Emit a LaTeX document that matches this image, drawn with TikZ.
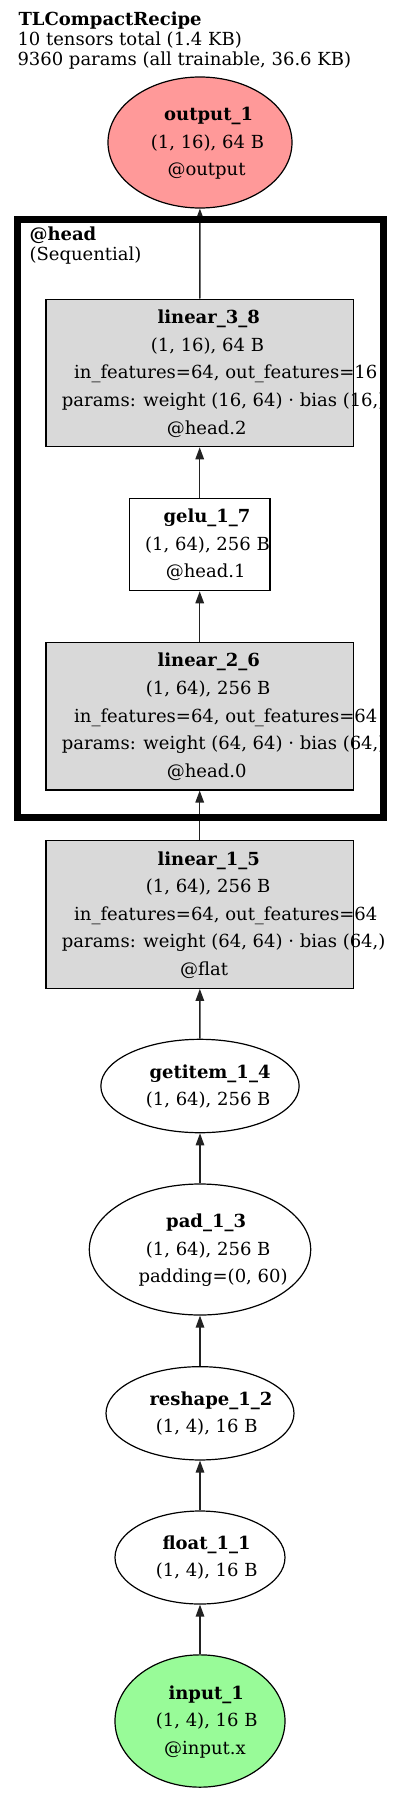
\documentclass[tikz,border=0pt]{standalone}
\usepackage{fontspec}
\setmainfont{DejaVu Serif}
\usetikzlibrary{shapes.geometric,arrows.meta}
\definecolor{outfill}{RGB}{255,153,153}
\definecolor{infill}{RGB}{152,251,152}
\definecolor{opfill}{RGB}{217,217,217}
\definecolor{edgecol}{RGB}{34,34,34}
\tikzset{
  txt/.style={anchor=base west, inner sep=0pt, font=\fontsize{18}{21}\selectfont},
  btxt/.style={anchor=base west, inner sep=0pt, font=\fontsize{18}{21}\selectfont\bfseries},
  ell/.style={ellipse, draw=black, line width=1.2pt, inner sep=0pt},
  opbox/.style={rectangle, draw=black, line width=1.2pt, inner sep=0pt},
  edge/.style={draw=edgecol, line width=1.4pt, -{Triangle[length=12pt,width=8.5pt]}},
  cluster/.style={draw=black, line width=7pt},
}
\begin{document}
\begin{tikzpicture}[x=1pt,y=-1pt]
\useasboundingbox (0,0) rectangle (400,1793);
\fill[white] (0,0) rectangle (400,1793);

% title
\node[btxt] (title1) at (18.3,26) {TLCompactRecipe};
\node[txt] (title2) at (17.3,46) {10 tensors total (1.4 KB)};
\node[txt] (title3) at (17.3,65.7) {9360 params (all trainable, 36.6 KB)};

% shapes
\node[ell, fill=outfill, minimum width=184pt, minimum height=131pt] (output) at (200,142.5) {};
\node[opbox, fill=opfill, minimum width=307.3pt, minimum height=147.4pt] (lin38) at (199.7,373) {};
\node[opbox, fill=white, minimum width=140.7pt, minimum height=92.4pt] (gelu) at (199.7,544.5) {};
\node[opbox, fill=opfill, minimum width=307.3pt, minimum height=147.3pt] (lin26) at (199.7,716.3) {};
\node[opbox, fill=opfill, minimum width=307.3pt, minimum height=147.6pt] (lin15) at (199.7,914.5) {};
\node[ell, fill=white, minimum width=198.3pt, minimum height=93.4pt] (getitem) at (200,1086) {};
\node[ell, fill=white, minimum width=221.4pt, minimum height=131pt] (pad) at (200,1249.5) {};
\node[ell, fill=white, minimum width=188pt, minimum height=93.3pt] (reshape) at (200,1413.3) {};
\node[ell, fill=white, minimum width=170pt, minimum height=93pt] (float) at (200,1557.5) {};
\node[ell, fill=infill, minimum width=170pt, minimum height=132.3pt] (input) at (200,1721) {};

% labels
\node[btxt] (output-a) at (164,120.7) {output\_1};
\node[txt] (output-b) at (150.7,148.3) {(1, 16), 64 B};
\node[txt] (output-c) at (167.3,175.9) {@output};

\node[btxt] (lin38-a) at (157.3,323.6) {linear\_3\_8};
\node[txt] (lin38-b) at (150.7,351.2) {(1, 16), 64 B};
\node[txt] (lin38-c) at (74,378.8) {in\_features=64, out\_features=16};
\node[txt] (lin38-d) at (61.7,406.4) {params: weight (16, 64) · bias (16,)};
\node[txt] (lin38-e) at (166.7,434.0) {@head.2};

\node[btxt] (gelu-a) at (163.3,522.7) {gelu\_1\_7};
\node[txt] (gelu-b) at (145,550.3) {(1, 64), 256 B};
\node[txt] (gelu-c) at (165.7,577.9) {@head.1};

\node[btxt] (lin26-a) at (157.3,666.9) {linear\_2\_6};
\node[txt] (lin26-b) at (145.7,694.5) {(1, 64), 256 B};
\node[txt] (lin26-c) at (74,722.1) {in\_features=64, out\_features=64};
\node[txt] (lin26-d) at (61.7,749.7) {params: weight (64, 64) · bias (64,)};
\node[txt] (lin26-e) at (166.7,777.3) {@head.0};

\node[btxt] (lin15-a) at (157.3,865.1) {linear\_1\_5};
\node[txt] (lin15-b) at (145.7,892.7) {(1, 64), 256 B};
\node[txt] (lin15-c) at (74,920.3) {in\_features=64, out\_features=64};
\node[txt] (lin15-d) at (61.7,947.9) {params: weight (64, 64) · bias (64,)};
\node[txt] (lin15-e) at (180,975.5) {@flat};

\node[btxt] (getitem-a) at (149.3,1078.0) {getitem\_1\_4};
\node[txt] (getitem-b) at (145.7,1105.6) {(1, 64), 256 B};

\node[btxt] (pad-a) at (166,1227.7) {pad\_1\_3};
\node[txt] (pad-b) at (145.7,1255.3) {(1, 64), 256 B};
\node[txt] (pad-c) at (138.3,1282.9) {padding=(0, 60)};

\node[btxt] (reshape-a) at (149.3,1405.3) {reshape\_1\_2};
\node[txt] (reshape-b) at (155.7,1432.9) {(1, 4), 16 B};

\node[btxt] (float-a) at (162.3,1549.0) {float\_1\_1};
\node[txt] (float-b) at (155.7,1576.6) {(1, 4), 16 B};

\node[btxt] (input-a) at (168.3,1699.2) {input\_1};
\node[txt] (input-b) at (155.7,1726.8) {(1, 4), 16 B};
\node[txt] (input-c) at (164,1754.4) {@input.x};

% edges
\draw[edge] (input) -- (float);
\draw[edge] (float) -- (reshape);
\draw[edge] (reshape) -- (pad);
\draw[edge] (pad) -- (getitem);
\draw[edge] (getitem) -- (lin15);
\draw[edge] (lin15) -- (lin26);
\draw[edge] (lin26) -- (gelu);
\draw[edge] (gelu) -- (lin38);
\draw[edge] (lin38) -- (output);

% cluster
\draw[cluster] (17,219.5) rectangle (383.5,817.5);
\node[btxt] (head-a) at (29.3,240) {@head};
\node[txt] (head-b) at (29.3,260) {(Sequential)};
\end{tikzpicture}
\end{document}
